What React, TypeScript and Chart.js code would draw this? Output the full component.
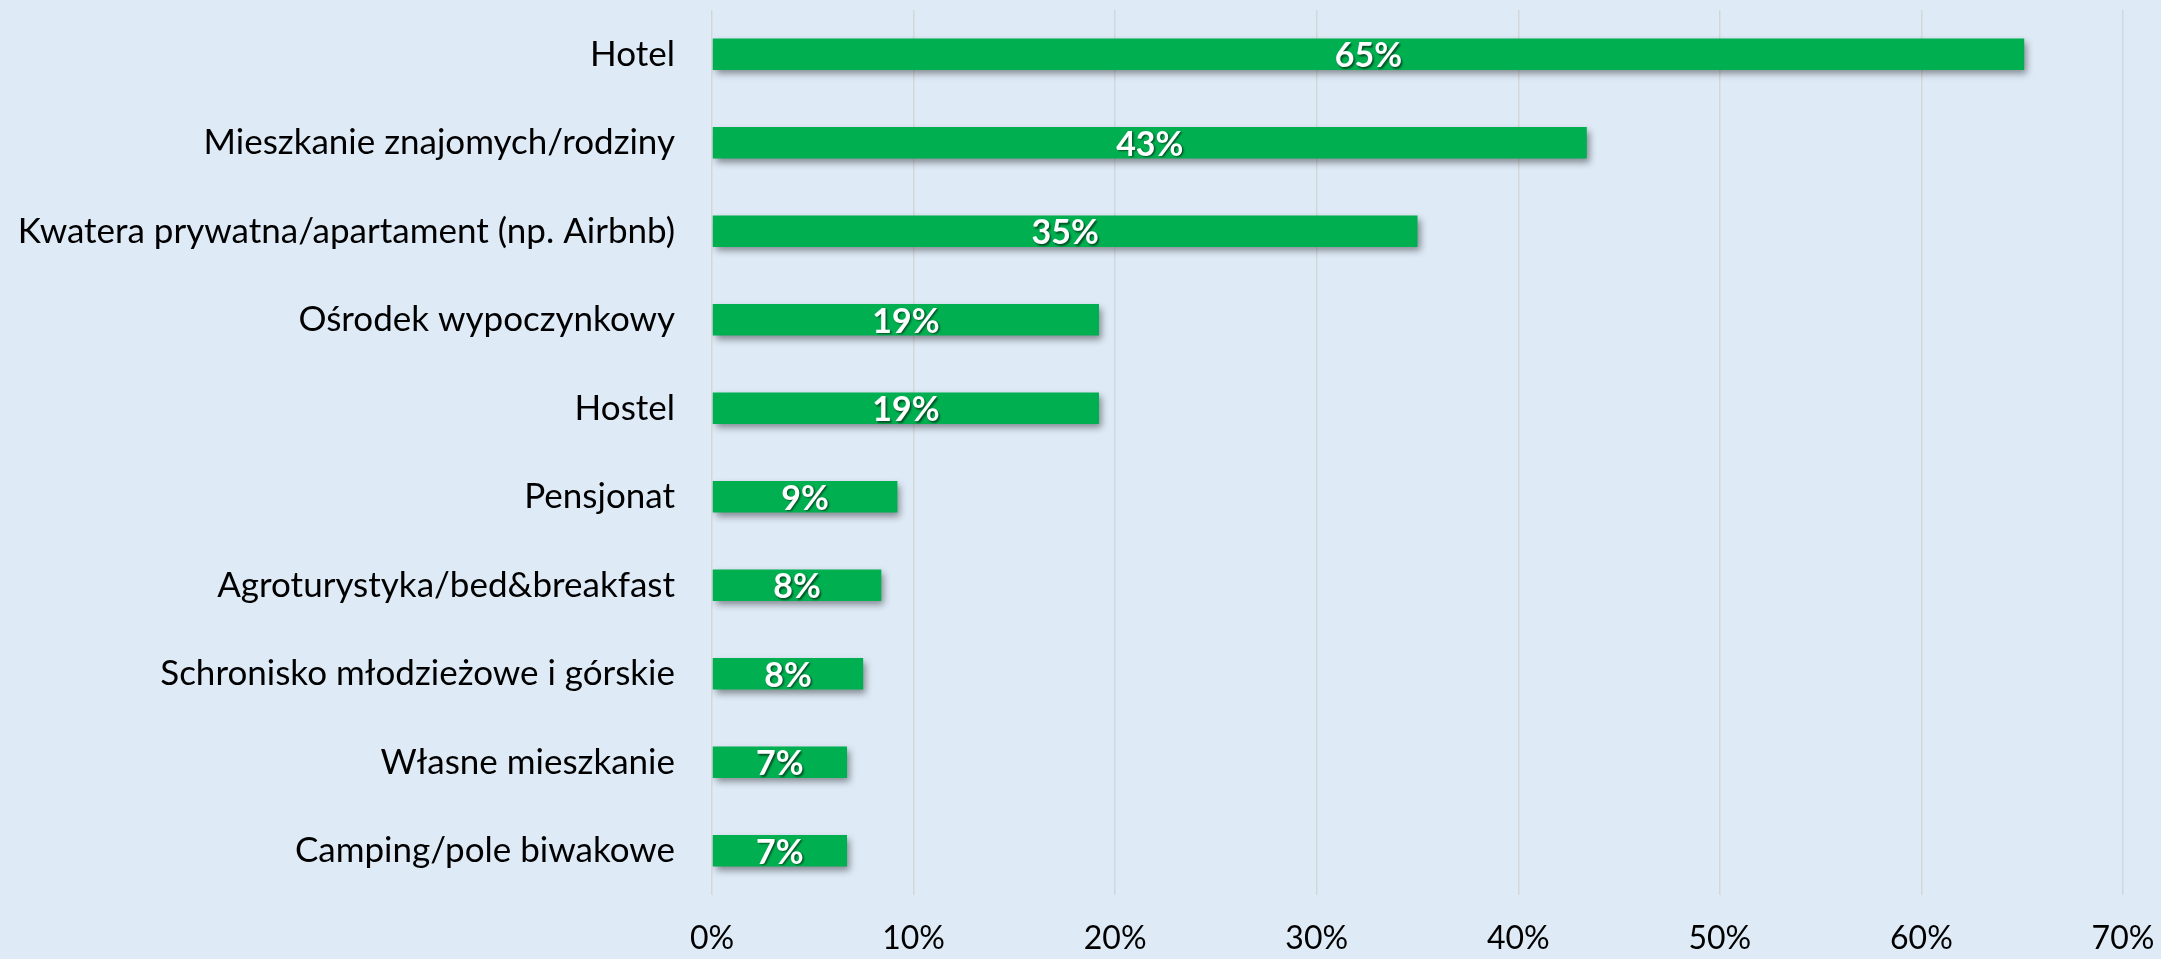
import React, { useEffect, useRef } from "react";
import { Chart, registerables } from "chart.js";

Chart.register(...registerables);

const categories = [
  "Hotel",
  "Mieszkanie znajomych/rodziny",
  "Kwatera prywatna/apartament (np. Airbnb)",
  "Ośrodek wypoczynkowy",
  "Hostel",
  "Pensjonat",
  "Agroturystyka/bed&breakfast",
  "Schronisko młodzieżowe i górskie",
  "Własne mieszkanie",
  "Camping/pole biwakowe",
];
const shares = [65.1, 43.4, 35.0, 19.2, 19.2, 9.2, 8.4, 7.5, 6.7, 6.7];
const xMin = 0;
const xMax = 70;
const xStep = 10;

const FONT = "Lato";
const BG = "#DEEAF6";
const BAR = "#00B050";

const barDecor = {
  id: "barDecor",
  beforeDatasetsDraw(chart: any) {
    const ctx = chart.ctx;
    ctx.save();
    ctx.shadowColor = "rgba(0,0,0,0.42)";
    ctx.shadowBlur = 7;
    ctx.shadowOffsetX = 3;
    ctx.shadowOffsetY = 4;
  },
  afterDatasetsDraw(chart: any) {
    const ctx = chart.ctx;
    ctx.restore();
    const meta = chart.getDatasetMeta(0);
    const data = chart.data.datasets[0].data as number[];
    ctx.save();
    ctx.font = `bold 34px ${FONT}`;
    ctx.fillStyle = "#FFFFFF";
    ctx.textAlign = "center";
    ctx.textBaseline = "middle";
    ctx.shadowColor = "rgba(0,0,0,0.55)";
    ctx.shadowBlur = 2;
    ctx.shadowOffsetX = 1.5;
    ctx.shadowOffsetY = 1.5;
    meta.data.forEach((el: any, i: number) => {
      const p = el.getProps(["x", "y", "base"], true);
      const cx = (p.x + p.base) / 2;
      ctx.fillText(`${Math.round(data[i])}%`, cx, p.y + 2);
    });
    ctx.restore();
  },
};

export default function App() {
  const ref = useRef<HTMLCanvasElement | null>(null);

  useEffect(() => {
    if (!ref.current) return;
    const chart = new Chart(ref.current, {
      type: "bar",
      data: {
        labels: categories,
        datasets: [
          {
            data: shares,
            backgroundColor: BAR,
            borderWidth: 0,
            barPercentage: 0.358,
            categoryPercentage: 1,
          },
        ],
      },
      options: {
        indexAxis: "y",
        animation: false,
        responsive: false,
        maintainAspectRatio: false,
        layout: { padding: { top: 10, right: 38, left: 0, bottom: 0 } },
        plugins: {
          legend: { display: false },
          tooltip: { enabled: false },
        },
        scales: {
          x: {
            min: xMin,
            max: xMax,
            ticks: {
              stepSize: xStep,
              padding: 24,
              color: "#000000",
              font: { family: FONT, size: 32 },
              callback: (v: any) => `${v}%`,
            },
            grid: { color: "#D4D7DA", lineWidth: 1.5, drawTicks: false },
            border: { display: false },
            afterFit: (s: any) => {
              s.height = 64;
              s.paddingLeft = 0;
              s.paddingRight = 0;
            },
          },
          y: {
            ticks: {
              padding: 37,
              color: "#000000",
              font: { family: FONT, size: 35 },
            },
            grid: { display: false, drawTicks: false },
            border: { display: false },
            afterFit: (s: any) => {
              s.width = 712;
              s.paddingTop = 0;
              s.paddingBottom = 0;
            },
          },
        },
      },
      plugins: [barDecor],
    });
    return () => chart.destroy();
  }, []);

  return (
    <div
      style={{
        position: "fixed",
        left: 0,
        top: 0,
        width: 2161,
        height: 959,
        background: BG,
      }}
    >
      <canvas ref={ref} width={2161} height={959} style={{ display: "block" }} />
    </div>
  );
}
